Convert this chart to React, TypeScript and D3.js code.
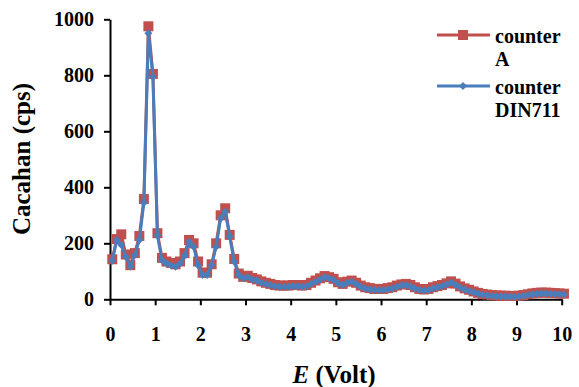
import React, { useEffect, useRef } from 'react';
import * as d3 from 'd3';

// voltage of each sample (V)
const voltage = [
  0.05, 0.15, 0.25, 0.35, 0.45, 0.55, 0.65, 0.75, 0.85, 0.95,
  1.05, 1.15, 1.25, 1.35, 1.45, 1.55, 1.65, 1.75, 1.85, 1.95,
  2.05, 2.15, 2.25, 2.35, 2.45, 2.55, 2.65, 2.75, 2.85, 2.95,
  3.05, 3.15, 3.25, 3.35, 3.45, 3.55, 3.65, 3.75, 3.85, 3.95,
  4.05, 4.15, 4.25, 4.35, 4.45, 4.55, 4.65, 4.75, 4.85, 4.95,
  5.05, 5.15, 5.25, 5.35, 5.45, 5.55, 5.65, 5.75, 5.85, 5.95,
  6.05, 6.15, 6.25, 6.35, 6.45, 6.55, 6.65, 6.75, 6.85, 6.95,
  7.05, 7.15, 7.25, 7.35, 7.45, 7.55, 7.65, 7.75, 7.85, 7.95,
  8.05, 8.15, 8.25, 8.35, 8.45, 8.55, 8.65, 8.75, 8.85, 8.95,
  9.05, 9.15, 9.25, 9.35, 9.45, 9.55, 9.65, 9.75, 9.85, 9.95,
  10.05,
];

const counterA = [
  143, 215, 232, 160, 122, 165, 226, 358, 975, 805,
  236, 148, 135, 130, 125, 135, 165, 212, 200, 135,
  95, 95, 125, 200, 300, 325, 230, 144, 92, 80,
  84, 76, 71, 64, 59, 55, 51, 49, 49, 49,
  51, 51, 49, 51, 59, 67, 75, 83, 79, 73,
  61, 55, 63, 67, 59, 49, 43, 40, 37, 37,
  37, 40, 43, 49, 53, 55, 51, 43, 37, 35,
  37, 43, 47, 51, 57, 64, 56, 46, 39, 34,
  28, 23, 19, 17, 15, 14, 13, 13, 12, 12,
  13, 15, 18, 21, 23, 24, 24, 23, 22, 21,
  20,
];

const counterDIN711 = [
  138, 212, 194, 152, 117, 158, 212, 345, 950, 795,
  228, 140, 128, 122, 116, 128, 155, 205, 188, 122,
  87, 87, 122, 188, 289, 313, 224, 134, 87, 75,
  79, 71, 67, 59, 55, 51, 47, 45, 45, 45,
  47, 47, 45, 47, 55, 63, 71, 79, 75, 69,
  57, 51, 59, 63, 55, 45, 39, 36, 33, 33,
  33, 36, 39, 45, 49, 51, 47, 39, 33, 31,
  33, 39, 43, 47, 53, 60, 52, 42, 35, 30,
  25, 20, 16, 14, 12, 11, 10, 10, 9, 9,
  10, 12, 15, 18, 20, 21, 21, 20, 19, 18,
  17,
];

const xTicks = [0, 1, 2, 3, 4, 5, 6, 7, 8, 9, 10];
const yTicks = [0, 200, 400, 600, 800, 1000];

const RED = '#C0504D';
const BLUE = '#4A7EBB';
const FONT = "'Liberation Serif', 'Times New Roman', Times, 'DejaVu Serif', serif";

export default function App() {
  const svgRef = useRef<SVGSVGElement>(null);

  useEffect(() => {
    if (!svgRef.current) return;
    const svg = d3.select(svgRef.current);
    svg.selectAll('*').remove();

    const x = d3.scaleLinear().domain([0, 10]).range([110, 561.7]);
    const y = d3.scaleLinear().domain([0, 1000]).range([299.3, 19.3]);

    const pts = (vals: number[]) => vals.map((v, i) => [voltage[i], v] as [number, number]);
    const line = d3.line<[number, number]>()
      .x(d => x(d[0]))
      .y(d => y(d[1]));

    // axes
    const xAxis = svg.append('g')
      .attr('transform', `translate(0,${y(0)})`)
      .call(d3.axisBottom(x).tickValues(xTicks).tickFormat(d3.format('d')).tickSize(6).tickSizeOuter(0).tickPadding(22));
    const yAxis = svg.append('g')
      .attr('transform', `translate(${x(0)},0)`)
      .call(d3.axisLeft(y).tickValues(yTicks).tickFormat(d3.format('d')).tickSize(6).tickSizeOuter(0).tickPadding(10));
    for (const ax of [xAxis, yAxis]) {
      ax.attr('font-family', null).attr('font-size', null);
      ax.selectAll('path, line').attr('stroke', '#000').attr('stroke-width', 2);
      ax.selectAll('text')
        .attr('fill', '#000')
        .style('font-family', FONT)
        .style('font-size', '20px')
        .style('font-weight', '700');
    }

    // counter A: red line + squares
    svg.append('path')
      .datum(pts(counterA))
      .attr('fill', 'none')
      .attr('stroke', RED)
      .attr('stroke-width', 3)
      .attr('d', line);
    svg.append('g').selectAll('rect')
      .data(pts(counterA))
      .join('rect')
      .attr('x', d => x(d[0]) - 5)
      .attr('y', d => y(d[1]) - 5)
      .attr('width', 10)
      .attr('height', 10)
      .attr('fill', RED);

    // counter DIN711: blue line + diamonds
    const diamond = 'M0,-4L4,0L0,4L-4,0Z';
    svg.append('path')
      .datum(pts(counterDIN711))
      .attr('fill', 'none')
      .attr('stroke', BLUE)
      .attr('stroke-width', 3)
      .attr('d', line);
    svg.append('g').selectAll('path')
      .data(pts(counterDIN711))
      .join('path')
      .attr('d', diamond)
      .attr('transform', d => `translate(${x(d[0])},${y(d[1])})`)
      .attr('fill', BLUE);

    const txt = (sel: any, size: number) =>
      sel.style('font-family', FONT).style('font-weight', '700').style('font-size', `${size}px`).attr('fill', '#000');

    // axis titles
    const xTitle = txt(svg.append('text').attr('x', 334).attr('y', 383).attr('text-anchor', 'middle'), 25);
    xTitle.append('tspan').style('font-style', 'italic').text('E');
    xTitle.append('tspan').text(' (Volt)');

    txt(svg.append('text')
      .attr('transform', 'translate(30,159) rotate(-90)')
      .attr('text-anchor', 'middle'), 25)
      .text('Cacahan (cps)');

    // legend
    const items = [
      { color: RED, lines: ['counter', 'A'], y: 35, square: true },
      { color: BLUE, lines: ['counter', 'DIN711'], y: 86, square: false },
    ];
    const legend = svg.append('g');
    items.forEach(it => {
      legend.append('line')
        .attr('x1', 437).attr('x2', 490)
        .attr('y1', it.y).attr('y2', it.y)
        .attr('stroke', it.color).attr('stroke-width', 3);
      if (it.square) {
        legend.append('rect')
          .attr('x', 458).attr('y', it.y - 5)
          .attr('width', 10).attr('height', 10)
          .attr('fill', it.color);
      } else {
        legend.append('path')
          .attr('d', diamond)
          .attr('transform', `translate(463,${it.y})`)
          .attr('fill', it.color);
      }
      it.lines.forEach((t, k) => {
        txt(legend.append('text')
          .attr('x', 495)
          .attr('y', it.y + 8 + k * 23), 20)
          .text(t);
      });
    });
  }, []);

  return (
    <div style={{ position: 'absolute', left: 0, top: 0 }}>
      <svg ref={svgRef} width={579} height={387} style={{ display: 'block', background: '#fff' }} />
    </div>
  );
}
